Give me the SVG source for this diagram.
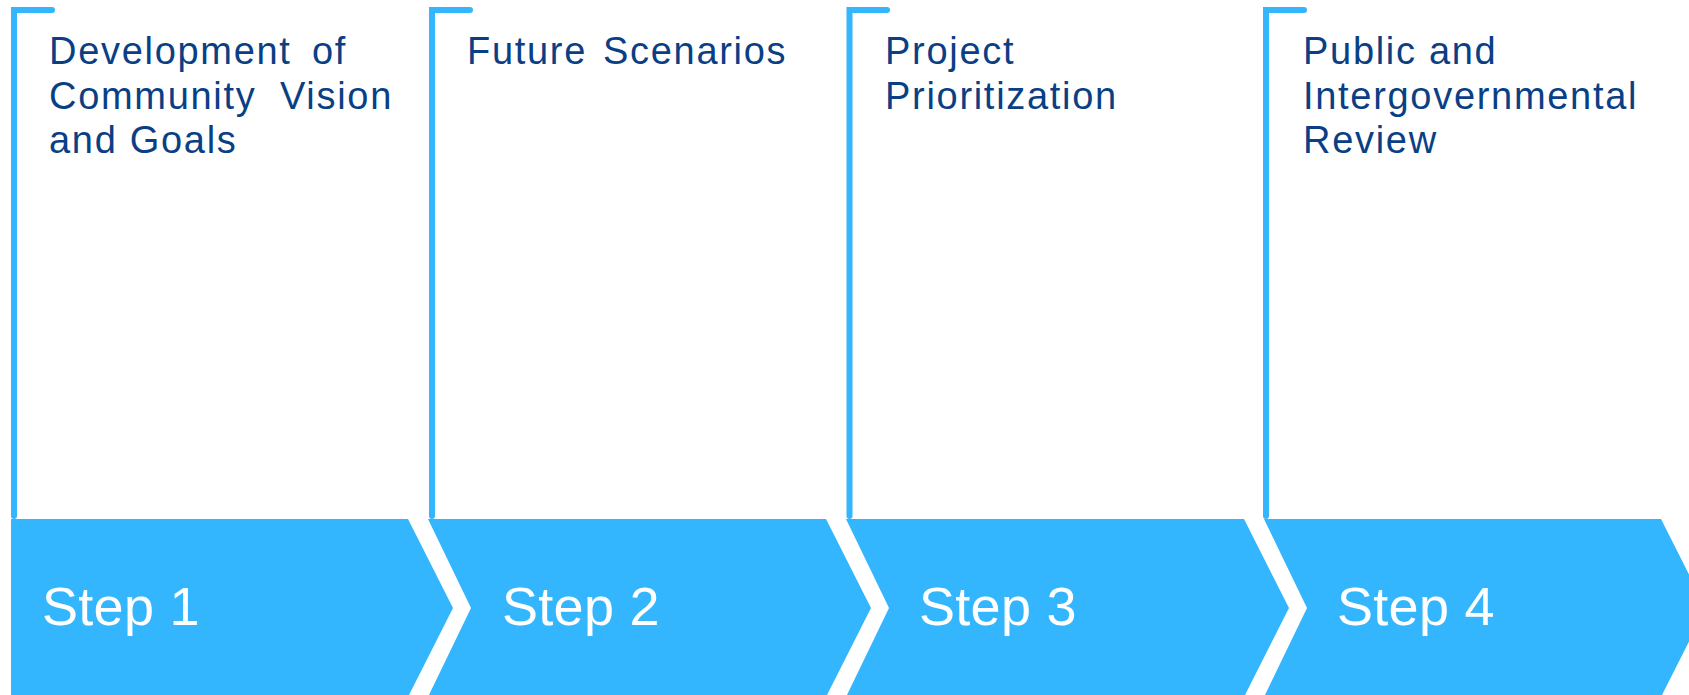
<svg xmlns="http://www.w3.org/2000/svg" width="1689" height="695" viewBox="0 0 1689 695">
<style>
.br{fill:none;stroke:#33B6FD;stroke-width:6;stroke-linecap:round;stroke-linejoin:miter}
.ch{fill:#33B6FD}
.hd{font-family:"Liberation Sans",Arial,sans-serif;font-size:38px;letter-spacing:1.7px;fill:#0A3F85}
.st{font-family:"Liberation Sans",Arial,sans-serif;font-size:54px;letter-spacing:0.3px;fill:#FFFFFF}
</style>
<rect width="1689" height="695" fill="#FFFFFF"/>
<g id="connectors">
<path class="br" d="M52,10 H14 V516"/>
<path class="br" d="M470,10 H432 V516"/>
<path class="br" d="M887,10 H849.5 V516"/>
<path class="br" d="M1304,10 H1266 V516"/>
</g>
<g id="step1">
<polygon class="ch" points="11,519 408,519 453,608 408,697 11,697"/>
<text class="hd" x="49" y="64">Development <tspan x="312">of</tspan></text>
<text class="hd" x="49" y="109">Community <tspan x="280">Vision</tspan></text>
<text class="hd" x="49" y="153">and Goals</text>
<text class="st" x="42" y="625">Step 1</text>
</g>
<g id="step2">
<polygon class="ch" points="428,519 826,519 871,608 826,697 428,697 471,608"/>
<text class="hd" x="467" y="64">Future <tspan x="603">Scenarios</tspan></text>
<text class="st" x="502" y="625">Step 2</text>
</g>
<g id="step3">
<polygon class="ch" points="846,519 1244,519 1289,608 1244,697 846,697 889,608"/>
<text class="hd" x="885" y="64">Project</text>
<text class="hd" x="885" y="109">Prioritization</text>
<text class="st" x="919" y="625">Step 3</text>
</g>
<g id="step4">
<polygon class="ch" points="1264,519 1661,519 1706,608 1661,697 1264,697 1307,608"/>
<text class="hd" x="1303" y="64">Public and</text>
<text class="hd" x="1303" y="109">Intergovernmental</text>
<text class="hd" x="1303" y="153">Review</text>
<text class="st" x="1337" y="625">Step 4</text>
</g>
</svg>
